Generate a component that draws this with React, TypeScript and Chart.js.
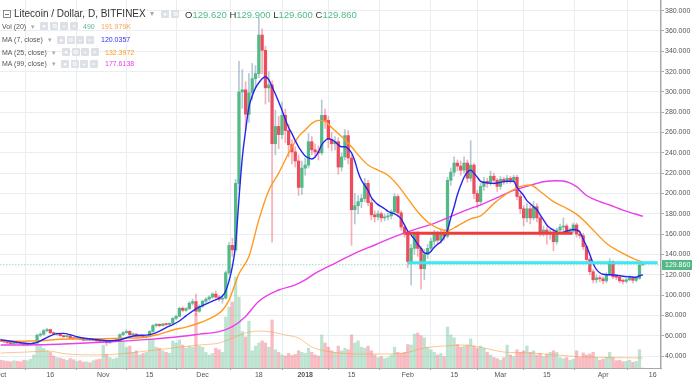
import React, { useEffect, useRef } from 'react';
import { Chart, registerables } from 'chart.js';

Chart.register(...registerables);

// ---- daily candles, day 0 = 2017-10-01 ----
const opens = [
  55.5,54.6,54.0,53.0,52.1,53.2,52.6,52.3,51.0,51.6,52.1,53.0,60.5,61.4,65.0,66.1,63.0,61.5,62.0,60.0,59.0,59.8,57.5,57.0,57.5,56.5,55.5,56.4,55.5,56.0,55.0,
  54.4,55.0,53.0,54.5,55.0,55.6,61.0,63.0,64.2,61.0,61.6,59.5,60.0,58.5,59.2,64.2,70.0,71.2,70.0,71.6,71.0,72.2,77.0,79.0,87.0,85.0,86.6,92.0,93.6,84.0,
  89.0,94.0,96.0,98.0,101.0,98.0,96.0,97.0,122.0,149.0,144.5,210.0,300.0,302.0,278.0,299.0,313.0,318.0,356.0,341.0,304.0,307.0,249.0,266.0,258.0,277.0,262.0,248.0,241.0,232.0,206.0,
  225,228,251,243,241,240,277,272,253,249,251,226,236,257,235,184,188,192,195,210,191,179,177,180,176,177,178,182,197,181,167,
  160,133,146,160,146,126,140,146,153,160,154,161,158,213,221,230,227,223,230,215,228,200,192,207,212,210,217,213,
  207,214,212,215,213,216,197,185,176,185,176,187,176,162,164,161,162,152.5,164,167,168,162,163,169,160,158.5,147.6,135,123,115,117,
  116,114,120,133,118,117.5,114,113.5,115,117,114.5,116.5,129.62,
];
const highs = [
  56.8,55.4,54.6,53.6,53.8,53.7,53.1,52.6,52.1,52.6,53.4,61.5,63.0,66.0,67.2,66.6,63.8,62.6,62.4,60.6,60.4,60.2,58.2,58.0,57.9,57.0,56.8,56.9,56.5,56.4,55.5,
  55.4,55.4,54.8,55.4,56.0,62.0,64.0,66.0,65.0,62.5,62.0,60.8,60.5,59.8,65.0,71.0,72.2,71.8,72.2,72.4,72.8,78.0,80.2,88.0,88.6,87.6,93.6,96.0,101.0,90.4,
  95.0,97.6,99.2,102.4,104.0,99.4,100.0,124.0,152.0,156.0,214.0,330.0,322.0,310.0,318.0,328.0,326.0,373.0,362.0,345.0,320.0,311.0,282.0,276.0,290.0,283.0,268.0,253.0,246.0,238.0,232.0,
  235,259,256,249,247,292,283,276,260,256,255,240,263,262,238,200,198,199,215,213,194,183,183,182,180,181,184,200,199,183,170,
  162,150,162,163,148,145,150,156,164,163,164,163,216,225,236,233,232,236,233,252,230,203,210,216,215,222,220,215,
  217,216,218,217,218,218,200,188,190,188,192,190,178,168,167,165,165,166,170,176,170,166,171,171,163,161,149,137,125,120,119,
  118,122,136,134,120,119,116,117,119,118,118,131,129.9,
];
const lows = [
  54.0,53.2,52.3,51.6,51.7,52.0,51.6,50.4,50.2,50.8,51.5,52.6,59.0,60.5,63.6,62.0,60.8,60.5,59.4,58.2,58.4,57.0,56.3,56.4,55.9,55.0,55.1,55.0,55.0,54.5,53.8,
  53.6,50.2,52.5,54.0,54.6,55.2,60.2,62.2,60.2,60.0,58.8,58.6,57.8,57.5,58.8,63.5,68.6,68.8,69.4,70.0,70.4,71.6,76.0,78.6,83.6,83.8,85.8,90.2,80.0,83.0,
  88.0,92.6,94.8,96.8,96.6,94.0,92.0,96.0,120.0,138.0,143.0,204.0,284.0,262.0,270.0,292.0,304.0,314.0,318.0,288.0,290.0,152.0,238.0,244.0,254.0,250.0,236.0,229.0,226.0,198.0,199.0,
  218,225,238,236,233,238,264,245,242,243,219,222,233,229,149,170,180,186,192,188,174,172,174,172,173,174,175,180,178,164,157,
  127,110,140,138,106,115,136,143,149,150,151,154,156,208,217,222,218,220,211,212,195,186,190,203,206,208,209,202,
  204,209,210,210,211,194,180,168,172,170,174,172,158,158,150,155,143.5,150,161,163,160,160,161,157,156,145,132,120,112,112,113,
  111,112,119,116,115,112,111,112,114,112,113,115.5,129.6,
];
const closes = [
  54.6,54.0,53.0,52.1,53.2,52.6,52.3,51.0,51.6,52.1,53.0,60.5,61.4,65.0,66.1,63.0,61.5,62.0,60.0,59.0,59.8,57.5,57.0,57.5,56.5,55.5,56.4,55.5,56.0,55.0,54.4,
  55.0,53.0,54.5,55.0,55.6,61.0,63.0,64.2,61.0,61.6,59.5,60.0,58.5,59.2,64.2,70.0,71.2,70.0,71.6,71.0,72.2,77.0,79.0,87.0,85.0,86.6,92.0,93.6,84.0,89.0,
  94.0,96.0,98.0,101.0,98.0,96.0,97.0,122.0,149.0,144.5,210.0,300.0,302.0,278.0,299.0,313.0,318.0,356.0,341.0,304.0,307.0,249.0,266.0,258.0,277.0,262.0,248.0,241.0,232.0,206.0,225.0,
  228,251,243,241,240,277,272,253,249,251,226,236,257,235,184,188,192,195,210,191,179,177,180,176,177,178,182,197,181,167,160,
  133,146,160,146,126,140,146,153,160,154,161,158,213,221,230,227,223,230,215,228,200,192,207,212,210,217,213,207,
  214,212,215,213,216,197,185,176,185,176,187,176,162,164,161,162,152.5,164,167,168,162,163,169,160,158.5,147.6,135,123,115,117,116,
  114,120,133,118,117.5,114,113.5,115,117,114.5,116.5,129.6,129.86,
];
// volume in thousands
const volumes = [
  150,140,130,120,140,130,120,150,140,170,250,480,420,380,330,300,230,200,190,170,150,180,160,130,140,110,120,100,140,160,170,
  440,260,200,170,190,540,520,400,420,300,330,250,280,300,560,540,400,380,330,300,280,520,480,540,440,380,420,400,1056,420,
  400,300,250,280,380,350,300,979,1171,1267,1747,1363,700,595,900,330,420,480,520,480,400,922,350,300,250,230,280,240,260,330,300,
  280,380,300,250,230,634,480,400,330,300,420,330,380,350,634,480,520,400,380,420,330,250,200,220,180,200,250,400,300,280,300,
  450,440,650,670,620,580,400,350,300,250,280,220,787,634,580,450,400,420,440,560,420,380,420,380,300,250,200,180,
  150,200,440,250,220,350,300,330,422,300,330,250,280,220,260,300,330,300,200,180,200,150,170,330,200,290,250,270,300,200,150,
  170,200,300,200,140,150,120,130,150,110,130,350,0.49,
];

// ---- moving averages (day, value) ----
const ma7Days = [0,3,6,9,11,13,15,17,19,21,23,26,30,33,36,38,41,44,46,48,50,52,54,56,59,62,64,66,67,68,69,70,71,72,73,74,75,76,77,78,79,80,81,82,83,84,85,86,87,88,89,90,91,92,93,94,95,96,97,98,99,100,101,102,103,104,105,106,107,108,109,110,111,112,113,114,115,116,117,118,119,120,121,122,123,124,125,126,127,128,129,130,131,132,133,134,135,136,137,138,139,140,141,142,143,144,145,147,149,151,153,155,156,157,158,159,160,161,162,163,164,165,166,167,168,169,170,171,172,173,174,175,176,177,178,179,180,181,182,184,186,188,190,192,193,194];
const ma7Vals = [56,54.5,53.2,52.2,53.5,56.5,59.8,62,62.3,61,59,57.2,55.8,55,55.8,58,60.2,60.6,61.8,64.5,68,70.8,74.5,79.5,86.5,91,94,96.8,99,104,114,128,150,195,235,262,285,296,304,309,313,315,312,305,298,290,282,273,265,259,252,246,241,237,235,234,236,241,248,252,254,253,251,248,246,246,244,240,232,221,213,208,203,196,192,189,187,185,182.5,181,180,178,175,169,163,159,155,150,146,141.5,141,143,147,150,152.5,157,164,176,187,199,208,216,221,223,220,216,212,210.5,210,211,212,212,206,202,198,193,190,187,184,179,174,169,166,164,162,161,162,163,164,164.5,164,162,155,148,140,131,125,122,120.5,120,119.5,118.5,118,117.5,119,120.04];

const ma25Days = [0,6,12,18,24,30,36,42,47,52,56,60,62,65,67,69,72,75,78,81,84,87,90,92,94,96,98,100,102,104,106,108,111,114,117,120,123,126,129,132,135,138,142,145,149,153,157,160,163,167,171,175,179,183,187,191,194];
const ma25Vals = [55,54.6,55,56.5,57,57,57.5,58,60.7,65.6,68.5,72.5,75,80,85,95,121,138,174,203,220,239.6,256,262.5,269,272,271,265,259,253,246,238,228,223,218,208,195,182,172,166,163.5,168,175,178,190,200,206.7,208.4,202,192,185.4,177,164,151,142.7,136.2,132.4];

const ma99Days = [0,15,30,45,55,60,66,70,74,78,84,89,92,95,101,107,113,119,125,131,137,142,145,150,155,160,164,168,171,174,177,181,184,188,194];
const ma99Vals = [50.8,51.3,53.5,56.4,59.5,61.5,64,68.9,79,94,105,110,115,121.4,131.3,141.1,149.3,157.5,164.5,170.6,178.8,185.4,188.7,196,203,208,211.6,212.5,211.6,206.7,198,192,188.7,183.7,177.6];

const volMaDays = [0,8,14,20,28,36,44,52,60,66,70,74,78,82,86,90,94,100,108,116,122,128,134,140,146,152,160,168,176,186,194];
const volMaVals = [288,307,326,269,250,269,326,384,442,480,576,672,710,691,634,576,403,307,269,269,288,384,422,442,384,307,288,250,211,200,192];

// ---- axis ticks ----
const tickDays = [0,15,31,45,61,78,92,106,123,137,151,165,182,197];
const tickLabels = ['Oct','16','Nov','15','Dec','18','2018','15','Feb','15','Mar','15','Apr','16'];
const priceTicks = [40,60,80,100,120,140,160,180,200,220,240,260,280,300,320,340,360,380];

// ---- drawn levels ----
const lastPrice = 129.86;
const redLevel = 160.8, redFrom = 122.2, redTo = 172.8;
const cyanLevel = 131.9, cyanFrom = 123, cyanTo = 198.5;

const UP = '#53b987';
const DOWN = '#eb4d5c';
const GRID = '#e8eef3';
const AXIS = '#a8a8a8';
const FONT = '"Liberation Sans", Arial, Helvetica, sans-serif';

const badgePlugin = {
  id: 'priceBadge',
  afterDraw(chart: any) {
    const { ctx, chartArea, scales } = chart;
    const y = scales.y.getPixelForValue(lastPrice);
    ctx.save();
    ctx.fillStyle = UP;
    ctx.fillRect(chartArea.right + 1, Math.round(y) - 5, 31, 10);
    ctx.fillStyle = '#ffffff';
    ctx.font = `7px ${FONT}`;
    ctx.textBaseline = 'middle';
    ctx.textAlign = 'left';
    ctx.fillText(lastPrice.toFixed(3), chartArea.right + 4, Math.round(y) + 0.5);
    ctx.restore();
  },
};

function Box({ left, top, glyph }: { left: number; top: number; glyph: string }) {
  return (
    <div style={{ position: 'absolute', left, top, width: 8, height: 8, background: '#dde1e6', borderRadius: 1, color: '#fff', fontSize: 6, lineHeight: '8px', textAlign: 'center', fontFamily: FONT }}>{glyph}</div>
  );
}

function IndRow({ top, label, caretLeft, iconLeft, step, values }: { top: number; label: string; caretLeft: number; iconLeft: number; step: number; values: { text: string; color: string; left: number }[] }) {
  return (
    <>
      <div style={{ position: 'absolute', left: 2, top, fontSize: 7, lineHeight: '9px', color: '#555', whiteSpace: 'nowrap' }}>{label}</div>
      <div style={{ position: 'absolute', left: caretLeft, top, fontSize: 7, lineHeight: '9px', color: '#aaa' }}>▾</div>
      {['●', '⚙', '+', '×'].map((g, i) => (
        <Box key={i} left={iconLeft + i * step} top={top + 0.5} glyph={g} />
      ))}
      {values.map((v, i) => (
        <div key={i} style={{ position: 'absolute', left: v.left, top, fontSize: 7, lineHeight: '9px', color: v.color, whiteSpace: 'nowrap' }}>{v.text}</div>
      ))}
    </>
  );
}

export default function App() {
  const ref = useRef<HTMLCanvasElement>(null);

  useEffect(() => {
    const canvas = ref.current;
    if (!canvas) return;
    const days = closes.map((_, i) => i);
    const up = days.map((i) => closes[i] >= opens[i]);
    const pts = (ds: number[], vs: number[]) => ds.map((d, i) => ({ x: d, y: vs[i] }));

    const chart = new Chart(canvas, {
      type: 'bar',
      data: {
        datasets: [
          { type: 'line', data: [{ x: redFrom, y: redLevel }, { x: redTo, y: redLevel }], borderColor: '#f23b3b', borderWidth: 3, pointRadius: 0, order: 0 } as any,
          { type: 'line', data: [{ x: cyanFrom, y: cyanLevel }, { x: cyanTo, y: cyanLevel }], borderColor: '#3ee6f2', borderWidth: 3, pointRadius: 0, order: 0 } as any,
          { type: 'line', data: pts(ma7Days, ma7Vals), borderColor: '#2525ee', borderWidth: 1.4, pointRadius: 0, cubicInterpolationMode: 'monotone', order: 1 } as any,
          { type: 'line', data: pts(ma25Days, ma25Vals), borderColor: '#ff9a1e', borderWidth: 1.4, pointRadius: 0, cubicInterpolationMode: 'monotone', order: 1 } as any,
          { type: 'line', data: pts(ma99Days, ma99Vals), borderColor: '#ea3fea', borderWidth: 1.4, pointRadius: 0, cubicInterpolationMode: 'monotone', order: 1 } as any,
          { type: 'line', data: [{ x: -1, y: lastPrice }, { x: 201, y: lastPrice }], borderColor: 'rgba(83,185,135,0.8)', borderWidth: 1, borderDash: [1, 2], pointRadius: 0, order: 1 } as any,
          {
            type: 'bar',
            data: days.map((i) => ({ x: i, y: [opens[i], closes[i]] })),
            backgroundColor: days.map((i) => (up[i] ? UP : DOWN)),
            barThickness: 2.6,
            minBarLength: 1,
            grouped: false,
            borderWidth: 0,
            order: 2,
          } as any,
          {
            type: 'bar',
            data: days.map((i) => ({ x: i, y: [lows[i], highs[i]] })),
            backgroundColor: days.map((i) => (up[i] ? 'rgba(120,155,180,0.55)' : 'rgba(235,77,92,0.45)')),
            barThickness: 1,
            grouped: false,
            borderWidth: 0,
            order: 3,
          } as any,
          { type: 'line', yAxisID: 'yv', data: pts(volMaDays, volMaVals), borderColor: 'rgba(255,152,60,0.55)', borderWidth: 1, pointRadius: 0, cubicInterpolationMode: 'monotone', order: 4 } as any,
          {
            type: 'bar',
            yAxisID: 'yv',
            data: days.map((i) => ({ x: i, y: volumes[i] })),
            backgroundColor: days.map((i) => (up[i] ? 'rgba(83,185,135,0.38)' : 'rgba(235,77,92,0.38)')),
            barThickness: 2.6,
            grouped: false,
            borderWidth: 0,
            order: 5,
          } as any,
        ],
      },
      options: {
        responsive: false,
        animation: false,
        devicePixelRatio: 1,
        events: [],
        layout: { padding: 0 },
        plugins: { legend: { display: false }, tooltip: { enabled: false }, title: { display: false } },
        scales: {
          x: {
            type: 'linear',
            min: -0.2,
            max: 199.5,
            offset: false,
            grid: { color: GRID, tickColor: AXIS, tickLength: 2, lineWidth: 1 },
            border: { color: AXIS, width: 1 },
            ticks: {
              autoSkip: false,
              maxRotation: 0,
              padding: 1,
              color: '#555',
              font: (ctx: any) => ({ size: 7, family: FONT, weight: ctx.tick && ctx.tick.value === 92 ? 'bold' : 'normal' }),
              callback: (v: any) => {
                const i = tickDays.indexOf(Number(v));
                return i >= 0 ? tickLabels[i] : '';
              },
            },
            afterBuildTicks: (s: any) => {
              s.ticks = tickDays.map((v) => ({ value: v }));
            },
            afterFit: (s: any) => {
              s.height = 11;
              s.paddingLeft = 0;
              s.paddingRight = 0;
            },
          } as any,
          y: {
            type: 'linear',
            position: 'right',
            min: 28.2,
            max: 390.5,
            grid: { color: GRID, tickColor: AXIS, tickLength: 3, lineWidth: 1 },
            border: { color: AXIS, width: 1.5 },
            ticks: {
              padding: 1,
              color: '#555',
              font: { size: 7, family: FONT },
              callback: (v: any) => Number(v).toFixed(3),
            },
            afterBuildTicks: (s: any) => {
              s.ticks = priceTicks.map((v) => ({ value: v }));
            },
            afterFit: (s: any) => {
              s.width = 31;
              s.paddingTop = 0;
              s.paddingBottom = 0;
            },
          } as any,
          yv: { type: 'linear', display: false, min: 0, max: 7066 } as any,
        },
      },
      plugins: [badgePlugin],
    });
    return () => chart.destroy();
  }, []);

  return (
    <div style={{ position: 'fixed', left: 0, top: 0, width: 692, height: 379, background: '#fff', overflow: 'hidden', fontFamily: FONT }}>
      <canvas ref={ref} width={692} height={379} style={{ position: 'absolute', left: 0, top: 0, width: 692, height: 379 }} />
      <div style={{ position: 'absolute', left: 0, top: 0, width: 400, height: 70, pointerEvents: 'none' }}>
        <div style={{ position: 'absolute', left: 3, top: 10, width: 6, height: 6, border: '1px solid #8a8a8a' }}>
          <div style={{ position: 'absolute', left: 1, top: 2.5, width: 4, height: 1, background: '#777' }} />
        </div>
        <div style={{ position: 'absolute', left: 14, top: 7, fontSize: 10, lineHeight: '13px', color: '#333', whiteSpace: 'nowrap' }}>Litecoin / Dollar, D, BITFINEX</div>
        <div style={{ position: 'absolute', left: 150, top: 8, fontSize: 8, lineHeight: '12px', color: '#aaa' }}>▾</div>
        <Box left={161} top={10} glyph="●" />
        <Box left={171} top={10} glyph="⚙" />
        <div style={{ position: 'absolute', left: 185, top: 7.5, fontSize: 9.5, lineHeight: '13px', color: '#333', whiteSpace: 'nowrap' }}>
          O<span style={{ color: UP }}>129.620</span>{' '}H<span style={{ color: UP }}>129.900</span>{' '}L<span style={{ color: UP }}>129.600</span>{' '}C<span style={{ color: UP }}>129.860</span>
        </div>
        <IndRow top={21.5} label="Vol (20)" caretLeft={31} iconLeft={40} step={10} values={[{ text: '490', color: UP, left: 83 }, { text: '191.979K', color: '#f7a251', left: 101 }]} />
        <IndRow top={35} label="MA (7, close)" caretLeft={48} iconLeft={57} step={9.5} values={[{ text: '120.0357', color: '#3030f0', left: 101 }]} />
        <IndRow top={47.5} label="MA (25, close)" caretLeft={52} iconLeft={62} step={9.5} values={[{ text: '132.3972', color: '#ff9a1e', left: 105 }]} />
        <IndRow top={59} label="MA (99, close)" caretLeft={52} iconLeft={61} step={9.5} values={[{ text: '177.6138', color: '#ea3fea', left: 105 }]} />
      </div>
    </div>
  );
}
